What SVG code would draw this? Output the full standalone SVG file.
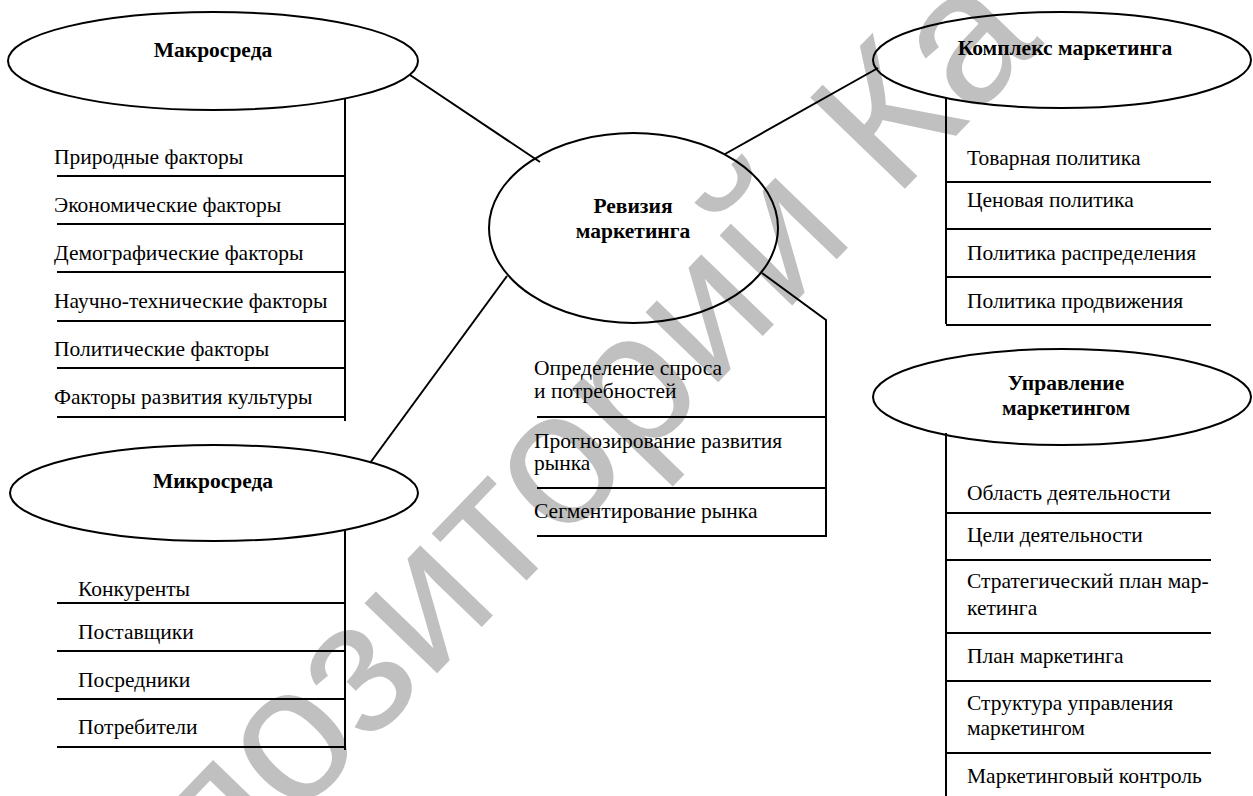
<svg xmlns="http://www.w3.org/2000/svg" width="1253" height="796" viewBox="0 0 1253 796">
<style>
.bg{fill:#ffffff}
.wm{font-family:"Liberation Sans",Arial,sans-serif;font-size:191px;fill:#c0c0c0}
.el{fill:none;stroke:#000;stroke-width:2}
.ln{stroke:#000;stroke-width:2;fill:none}
.t{font-family:"Liberation Serif","Times New Roman",serif;font-size:21.5px;fill:#000}
.h{font-family:"Liberation Serif","Times New Roman",serif;font-size:21.5px;font-weight:bold;fill:#000;text-anchor:middle}
</style>
<rect class="bg" x="0" y="0" width="1253" height="796"/>
<text class="wm" transform="translate(223,895) rotate(-46)">позиторий Ка</text>

<g id="connectors">
<line class="ln" x1="410" y1="75" x2="540" y2="162"/>
<line class="ln" x1="725" y1="154" x2="878" y2="68"/>
<line class="ln" x1="507" y1="276" x2="370" y2="463"/>
<polyline class="ln" points="762,273 826,320 826,537"/>
</g>

<g id="center">
<ellipse class="el" cx="633.5" cy="228" rx="144.5" ry="95"/>
<text class="h" x="633" y="213">Ревизия</text>
<text class="h" x="633" y="238">маркетинга</text>
</g>

<g id="makro">
<ellipse class="el" cx="213" cy="61" rx="205" ry="49"/>
<text class="h" x="213" y="57">Макросреда</text>
<line class="ln" x1="345" y1="98" x2="345" y2="421"/>
<g class="ln">
<line x1="57" y1="176" x2="345" y2="176"/>
<line x1="57" y1="224" x2="345" y2="224"/>
<line x1="57" y1="272" x2="345" y2="272"/>
<line x1="57" y1="321" x2="345" y2="321"/>
<line x1="57" y1="368" x2="345" y2="368"/>
<line x1="57" y1="417" x2="345" y2="417"/>
</g>
<text class="t" x="54" y="164">Природные факторы</text>
<text class="t" x="54" y="212">Экономические факторы</text>
<text class="t" x="54" y="260">Демографические факторы</text>
<text class="t" x="54" y="308">Научно-технические факторы</text>
<text class="t" x="54" y="356">Политические факторы</text>
<text class="t" x="54" y="404">Факторы развития культуры</text>
</g>

<g id="mikro">
<ellipse class="el" cx="214" cy="493" rx="204" ry="48"/>
<text class="h" x="213" y="488">Микросреда</text>
<line class="ln" x1="345" y1="531" x2="345" y2="750"/>
<g class="ln">
<line x1="57" y1="603" x2="345" y2="603"/>
<line x1="57" y1="651" x2="345" y2="651"/>
<line x1="57" y1="699" x2="345" y2="699"/>
<line x1="57" y1="747" x2="345" y2="747"/>
</g>
<text class="t" x="78" y="596">Конкуренты</text>
<text class="t" x="78" y="639">Поставщики</text>
<text class="t" x="78" y="687">Посредники</text>
<text class="t" x="78" y="734">Потребители</text>
</g>

<g id="revision-list">
<g class="ln">
<line x1="537" y1="417" x2="826" y2="417"/>
<line x1="537" y1="488" x2="826" y2="488"/>
<line x1="537" y1="536" x2="826" y2="536"/>
</g>
<text class="t" x="534" y="375">Определение спроса</text>
<text class="t" x="534" y="398">и потребностей</text>
<text class="t" x="534" y="448">Прогнозирование развития</text>
<text class="t" x="534" y="470">рынка</text>
<text class="t" x="534" y="518">Сегментирование рынка</text>
</g>

<g id="kompleks">
<ellipse class="el" cx="1062" cy="60" rx="189" ry="48"/>
<text class="h" x="1065" y="55">Комплекс маркетинга</text>
<line class="ln" x1="946" y1="98" x2="946" y2="324"/>
<g class="ln">
<line x1="946" y1="182" x2="1211" y2="182"/>
<line x1="946" y1="229" x2="1211" y2="229"/>
<line x1="946" y1="277" x2="1211" y2="277"/>
<line x1="946" y1="325" x2="1211" y2="325"/>
</g>
<text class="t" x="967" y="165">Товарная политика</text>
<text class="t" x="967" y="207">Ценовая политика</text>
<text class="t" x="967" y="260">Политика распределения</text>
<text class="t" x="967" y="308">Политика продвижения</text>
</g>

<g id="upravlenie">
<ellipse class="el" cx="1062" cy="397" rx="189" ry="48"/>
<text class="h" x="1066" y="390">Управление</text>
<text class="h" x="1066" y="415">маркетингом</text>
<line class="ln" x1="946" y1="433" x2="946" y2="796"/>
<g class="ln">
<line x1="946" y1="513" x2="1211" y2="513"/>
<line x1="946" y1="560" x2="1211" y2="560"/>
<line x1="946" y1="633" x2="1211" y2="633"/>
<line x1="946" y1="681" x2="1211" y2="681"/>
<line x1="946" y1="753" x2="1211" y2="753"/>
</g>
<text class="t" x="967" y="500">Область деятельности</text>
<text class="t" x="967" y="542">Цели деятельности</text>
<text class="t" x="967" y="588">Стратегический план мар-</text>
<text class="t" x="967" y="615">кетинга</text>
<text class="t" x="967" y="663">План маркетинга</text>
<text class="t" x="967" y="710">Структура управления</text>
<text class="t" x="967" y="735">маркетингом</text>
<text class="t" x="967" y="783">Маркетинговый контроль</text>
</g>
</svg>
